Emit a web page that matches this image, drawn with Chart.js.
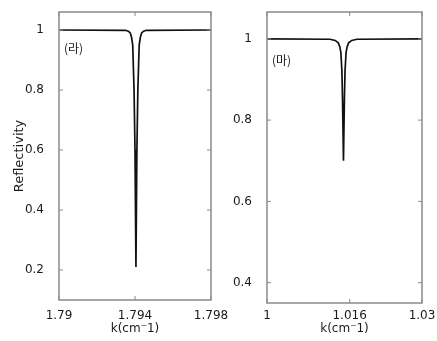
<!DOCTYPE html>
<html>
<head>
<meta charset="utf-8">
<script src="https://cdn.jsdelivr.net/npm/chart.js@4.4.1/dist/chart.umd.min.js"></script>
<style>
  html, body { margin: 0; padding: 0; background: #fff; }
  #wrap { position: relative; width: 437px; height: 341px; overflow: hidden; }
  #c1 { position: absolute; left: 0; top: 0; }
  #c2 { position: absolute; left: 218px; top: 0; }
</style>
</head>
<body>
<div id="wrap">
  <canvas id="c1" width="240" height="341"></canvas>
  <canvas id="c2" width="219" height="341"></canvas>
</div>
<script>
// panel (라)
var kLeft = [1.79, 1.7935, 1.79365, 1.79375, 1.79382, 1.79388, 1.79395, 1.794, 1.79405, 1.7941, 1.79415, 1.79422, 1.79428, 1.79435, 1.79445, 1.7946, 1.798];
var rLeft = [1, 0.999, 0.996, 0.99, 0.975, 0.95, 0.8, 0.6, 0.21, 0.6, 0.8, 0.95, 0.975, 0.99, 0.996, 0.999, 1];
var xTicksLeft = [1.79, 1.794, 1.798];
var yTicksLeft = [0.2, 0.4, 0.6, 0.8, 1];

// panel (마)
var kRight = [1, 1.0122, 1.0132, 1.0138, 1.0141, 1.0143, 1.0145, 1.01462, 1.0148, 1.01498, 1.0151, 1.0153, 1.0155, 1.0158, 1.0164, 1.0174, 1.03];
var rRight = [1, 0.999, 0.996, 0.99, 0.98, 0.966, 0.92, 0.85, 0.70, 0.85, 0.92, 0.966, 0.98, 0.99, 0.996, 0.999, 1];
var xTicksRight = [1, 1.016, 1.03];
var yTicksRight = [0.4, 0.6, 0.8, 1];

var txt = '#1a1a1a';
var frameCol = '#8a8a8a';

function pts(xs, ys) {
  return xs.map(function (x, i) { return {x: x, y: ys[i]}; });
}

// matlab-like box with inward ticks + panel tag
var boxPlugin = {
  id: 'box',
  afterDatasetsDraw: function (chart, args, opts) {
    var ctx = chart.ctx, a = chart.chartArea;
    var xs = chart.scales.x, ys = chart.scales.y;
    ctx.save();
    ctx.strokeStyle = frameCol;
    ctx.lineWidth = 1.5;
    ctx.strokeRect(a.left, a.top, a.right - a.left, a.bottom - a.top);
    ctx.lineWidth = 1;
    ctx.beginPath();
    xs.ticks.forEach(function (t) {
      var p = xs.getPixelForValue(t.value);
      ctx.moveTo(p, a.bottom); ctx.lineTo(p, a.bottom - 4);
      ctx.moveTo(p, a.top); ctx.lineTo(p, a.top + 4);
    });
    ys.ticks.forEach(function (t) {
      var p = ys.getPixelForValue(t.value);
      ctx.moveTo(a.left, p); ctx.lineTo(a.left + 4, p);
      ctx.moveTo(a.right, p); ctx.lineTo(a.right - 4, p);
    });
    ctx.stroke();
    ctx.fillStyle = txt;
    ctx.font = '12px "Noto Sans CJK KR", "DejaVu Sans"';
    ctx.textBaseline = 'middle';
    ctx.fillText(opts.tag, a.left + opts.dx, a.top + opts.dy);
    ctx.restore();
  }
};

function makeChart(id, xs, ys, xmin, xmax, ymin, ymax, xt, yt, cfg) {
  return new Chart(document.getElementById(id), {
    type: 'scatter',
    data: {
      datasets: [{
        data: pts(xs, ys),
        showLine: true,
        borderColor: '#111',
        borderWidth: 1.7,
        pointRadius: 0,
        tension: 0
      }]
    },
    options: {
      responsive: false,
      animation: false,
      devicePixelRatio: 1,
      layout: {padding: {left: 0, right: cfg.padRight, top: 12, bottom: 0}},
      plugins: {
        legend: {display: false},
        tooltip: {enabled: false},
        box: {tag: cfg.tag, dx: cfg.tagDx, dy: cfg.tagDy}
      },
      scales: {
        x: {
          type: 'linear', min: xmin, max: xmax,
          grid: {display: false}, border: {display: false},
          afterBuildTicks: function (s) { s.ticks = xt.map(function (v) { return {value: v}; }); },
          afterFit: function (s) { s.height = cfg.xHeight; s.paddingLeft = 0; s.paddingRight = 0; },
          ticks: {color: txt, font: {family: 'DejaVu Sans', size: 12}, padding: cfg.xPad, maxRotation: 0,
            callback: function (v) { return String(v); }},
          title: {display: true, text: 'k(cm⁻1)', color: txt, font: {family: 'DejaVu Sans', size: 12}, padding: {top: 0, bottom: 5}}
        },
        y: {
          type: 'linear', min: ymin, max: ymax,
          grid: {display: false}, border: {display: false},
          afterBuildTicks: function (s) { s.ticks = yt.map(function (v) { return {value: v}; }); },
          afterFit: function (s) { s.width = cfg.yWidth; s.paddingTop = 0; s.paddingBottom = 0; },
          ticks: {color: txt, font: {family: 'DejaVu Sans', size: 12}, padding: 7,
            callback: function (v) { return String(v); }},
          title: {display: cfg.yTitle, text: 'Reflectivity', color: txt, font: {family: 'DejaVu Sans', size: 13}, padding: {top: 12, bottom: 0}}
        }
      }
    },
    plugins: [boxPlugin]
  });
}

makeChart('c1', kLeft, rLeft, 1.79, 1.798, 0.1, 1.06, xTicksLeft, yTicksLeft,
  {padRight: 29, xHeight: 41, yWidth: 59, xPad: 1, yTitle: true, tag: '(라)', tagDx: 5, tagDy: 36});
makeChart('c2', kRight, rRight, 1, 1.03, 0.35, 1.066, xTicksRight, yTicksRight,
  {padRight: 15, xHeight: 38, yWidth: 49, xPad: -2, yTitle: false, tag: '(마)', tagDx: 5, tagDy: 48});
</script>
</body>
</html>
